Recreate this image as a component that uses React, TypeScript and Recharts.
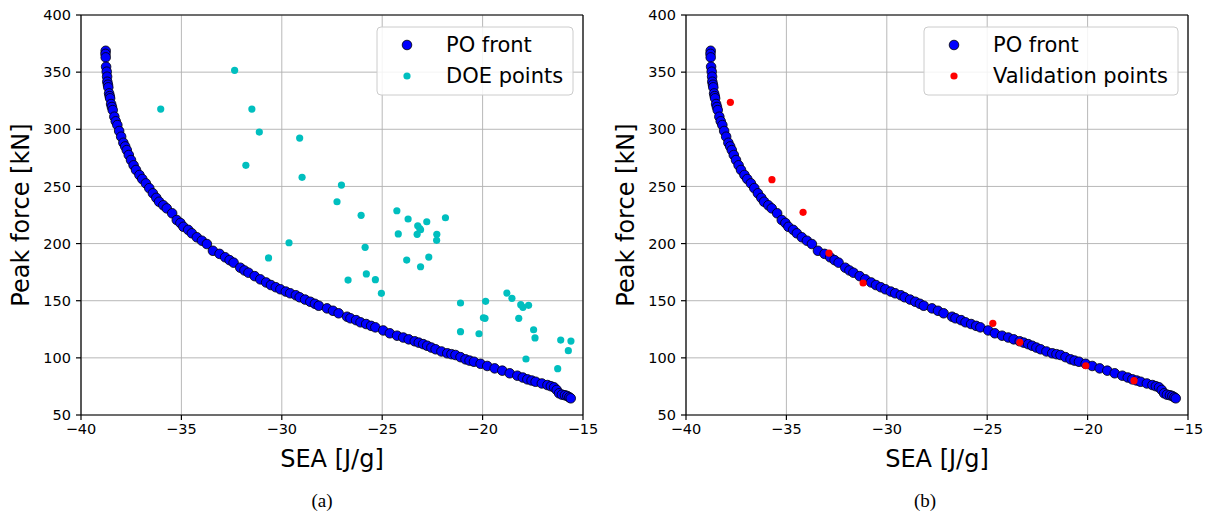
import React from 'react';
import { ScatterChart, Scatter, XAxis, YAxis, CartesianGrid, ReferenceLine } from 'recharts';

// Pareto-optimal front (shared by both panels)
const poFrontSea = [
  -38.77, -38.78, -38.77, -38.75, -38.72, -38.7, -38.69, -38.66, -38.64, -38.6,
  -38.57, -38.55, -38.5, -38.46, -38.42, -38.34, -38.27, -38.19, -38.1, -38.0,
  -37.89, -37.8, -37.72, -37.62, -37.51, -37.38, -37.26, -37.09, -36.95, -36.77,
  -36.6, -36.42, -36.25, -36.11, -35.9, -35.73, -35.46, -35.23, -35.05, -34.9,
  -34.66, -34.48, -34.23, -33.98, -33.73, -33.43, -33.1, -32.82, -32.6, -32.4,
  -32.07, -31.86, -31.66, -31.35, -31.07, -30.78, -30.54, -30.3, -30.07, -29.8,
  -29.58, -29.3, -29.11, -28.84, -28.58, -28.35, -28.16, -27.75, -27.45, -27.17,
  -26.75, -26.58, -26.3, -26.08, -25.8, -25.55, -25.34, -24.95, -24.62, -24.26,
  -23.95, -23.68, -23.38, -23.18, -22.96, -22.76, -22.55, -22.34, -22.05, -21.76,
  -21.55, -21.35, -21.1, -20.85, -20.65, -20.43, -20.1, -19.77, -19.4, -19.02,
  -18.65, -18.27, -18.0, -17.77, -17.56, -17.36, -17.05, -16.77, -16.6, -16.44,
  -16.31, -16.19, -16.05, -15.9, -15.78, -15.68, -15.61,
];
const poFrontForce = [
  368.7, 366.0, 362.9, 354.7, 350.4, 346.0, 341.6, 339.0, 336.7, 331.4,
  329.0, 327.1, 322.1, 319.5, 316.8, 311.0, 307.0, 303.7, 298.5, 293.5,
  288.2, 285.0, 281.8, 277.5, 273.1, 268.5, 264.4, 260.0, 256.5, 252.7,
  248.5, 244.0, 240.0, 236.6, 233.5, 230.8, 226.5, 220.6, 218.0, 214.7,
  212.0, 209.0, 205.5, 202.5, 199.6, 193.7, 191.0, 188.0, 185.5, 183.3,
  178.9, 176.5, 174.5, 171.5, 168.7, 166.0, 163.7, 161.8, 160.0, 158.0,
  156.5, 154.8, 153.0, 151.0, 149.1, 147.3, 145.6, 143.3, 141.2, 139.0,
  136.0, 134.6, 133.0, 131.1, 129.6, 128.0, 126.7, 124.0, 121.5, 119.4,
  117.8, 116.2, 114.5, 113.3, 112.0, 110.6, 109.0, 107.5, 105.6, 104.0,
  103.2, 102.5, 100.6, 98.7, 97.6, 96.6, 94.8, 92.9, 90.8, 88.8,
  86.5, 84.4, 82.8, 81.2, 80.2, 79.1, 77.6, 76.2, 75.2, 74.2,
  71.9, 69.0, 67.8, 67.3, 66.6, 65.5, 64.6,
];

// Design of experiments points (panel a)
const doeSea = [
  -36.03, -32.35, -31.49, -31.12, -29.11, -31.79, -28.99, -27.03, -27.25, -26.05,
  -29.64, -30.66, -25.85, -25.79, -26.7, -25.34, -25.04, -24.27, -23.71, -23.23,
  -22.78, -21.85, -23.09, -24.2, -23.26, -22.28, -22.29, -22.68, -23.78, -23.09,
  -21.1, -19.85, -18.79, -18.54, -18.1, -17.99, -17.71, -19.96, -19.88, -18.2,
  -21.1, -20.18, -17.46, -17.39, -16.11, -15.6, -15.73, -17.84, -16.26, -23.13,
];
const doeForce = [
  317.7, 351.6, 317.7, 297.6, 292.3, 268.5, 258.0, 251.2, 236.6, 224.7,
  200.7, 187.4, 196.7, 173.4, 168.1, 168.4, 156.5, 228.7, 221.5, 215.6,
  219.1, 222.6, 212.1, 208.4, 208.1, 208.1, 202.8, 188.2, 185.6, 179.7,
  148.0, 149.5, 156.7, 152.1, 146.5, 144.2, 146.0, 135.1, 134.6, 134.6,
  122.9, 121.1, 124.6, 117.4, 115.6, 114.7, 106.3, 99.0, 90.5, 213.0,
];

// Validation points (panel b)
const valSea = [-37.79, -35.72, -34.17, -32.88, -31.18, -24.72, -23.38, -20.09, -17.69];
const valForce = [323.6, 255.9, 227.3, 191.7, 165.5, 130.2, 113.6, 93.1, 80.0];

const seaTicks = [-40, -35, -30, -25, -20, -15];
const forceTicks = [50, 100, 150, 200, 250, 300, 350, 400];

const toPoints = (xs: number[], ys: number[]) => xs.map((x, i) => ({ x, y: ys[i] }));
const poFront = toPoints(poFrontSea, poFrontForce);
const doePoints = toPoints(doeSea, doeForce);
const valPoints = toPoints(valSea, valForce);

const FONT = '"DejaVu Sans", sans-serif';
const fmt = (v: number) => String(v).replace('-', '\u2212');

const dot = (fill: string, r: number, edge?: string) => (props: any) => (
  <circle cx={props.cx} cy={props.cy} r={r} fill={fill} stroke={edge || 'none'} strokeWidth={edge ? 0.8 : 0} />
);

const W = 605;
const H = 470;

function Panel({ left, other, otherColor }: { left: number; other: { x: number; y: number }[]; otherColor: string }) {
  return (
    <div style={{ position: 'absolute', left, top: 0, width: W, height: H }}>
      <ScatterChart width={W} height={H} margin={{ top: 15, right: 22, bottom: 25, left: 31 }}>
        <CartesianGrid stroke="#b0b0b0" strokeWidth={0.9} />
        <XAxis
          type="number"
          dataKey="x"
          domain={[-40, -15]}
          ticks={seaTicks}
          tickFormatter={fmt}
          height={30}
          tickSize={5}
          tickMargin={4}
          axisLine={{ stroke: '#000', strokeWidth: 1.2 }}
          tickLine={{ stroke: '#000', strokeWidth: 1.2 }}
          tick={{ fill: '#000', fontSize: 14.5, fontFamily: FONT }}
          allowDataOverflow
        />
        <YAxis
          type="number"
          dataKey="y"
          domain={[50, 400]}
          ticks={forceTicks}
          width={50}
          tickSize={5}
          tickMargin={5}
          axisLine={{ stroke: '#000', strokeWidth: 1.2 }}
          tickLine={{ stroke: '#000', strokeWidth: 1.2 }}
          tick={{ fill: '#000', fontSize: 14.5, fontFamily: FONT }}
          allowDataOverflow
        />
        <ReferenceLine y={400} stroke="#000" strokeWidth={1.2} />
        <ReferenceLine x={-15} stroke="#000" strokeWidth={1.2} />
        <Scatter data={poFront} shape={dot('#0000ff', 4.8, '#000')} isAnimationActive={false} />
        <Scatter data={other} shape={dot(otherColor, 3.6)} isAnimationActive={false} />
      </ScatterChart>
    </div>
  );
}

function LegendBox({ x, width, label, color }: { x: number; width: number; label: string; color: string }) {
  return (
    <g>
      <rect x={x} y={27} width={width} height={68} rx={4} fill="rgba(255,255,255,0.85)" stroke="#cccccc" strokeWidth={1} />
      <circle cx={x + 30} cy={45} r={4.8} fill="#0000ff" stroke="#000" strokeWidth={0.8} />
      <text x={x + 69} y={52} fontSize={21} fontFamily={FONT} fill="#000">PO front</text>
      <circle cx={x + 30} cy={76} r={3.6} fill={color} />
      <text x={x + 69} y={83} fontSize={21} fontFamily={FONT} fill="#000">{label}</text>
    </g>
  );
}

export default function App() {
  return (
    <div style={{ position: 'absolute', left: 0, top: 0, width: 1210, height: 517, background: '#fff' }}>
      <Panel left={0} other={doePoints} otherColor="#00bfbf" />
      <Panel left={W} other={valPoints} otherColor="#ff0000" />
      <svg width={1210} height={517} style={{ position: 'absolute', left: 0, top: 0, pointerEvents: 'none' }}>
        <LegendBox x={377} width={196} label="DOE points" color="#00bfbf" />
        <LegendBox x={924} width={254} label="Validation points" color="#ff0000" />
        <text x={332} y={467} textAnchor="middle" fontSize={24} fontFamily={FONT} fill="#000">SEA [J/g]</text>
        <text x={937} y={467} textAnchor="middle" fontSize={24} fontFamily={FONT} fill="#000">SEA [J/g]</text>
        <text transform="translate(29,215) rotate(-90)" textAnchor="middle" fontSize={24} fontFamily={FONT} fill="#000">Peak force [kN]</text>
        <text transform="translate(634,215) rotate(-90)" textAnchor="middle" fontSize={24} fontFamily={FONT} fill="#000">Peak force [kN]</text>
        <text x={322} y={507} textAnchor="middle" fontSize={19} fontFamily='"Liberation Serif", serif' fill="#000">(a)</text>
        <text x={925} y={507} textAnchor="middle" fontSize={19} fontFamily='"Liberation Serif", serif' fill="#000">(b)</text>
      </svg>
    </div>
  );
}
